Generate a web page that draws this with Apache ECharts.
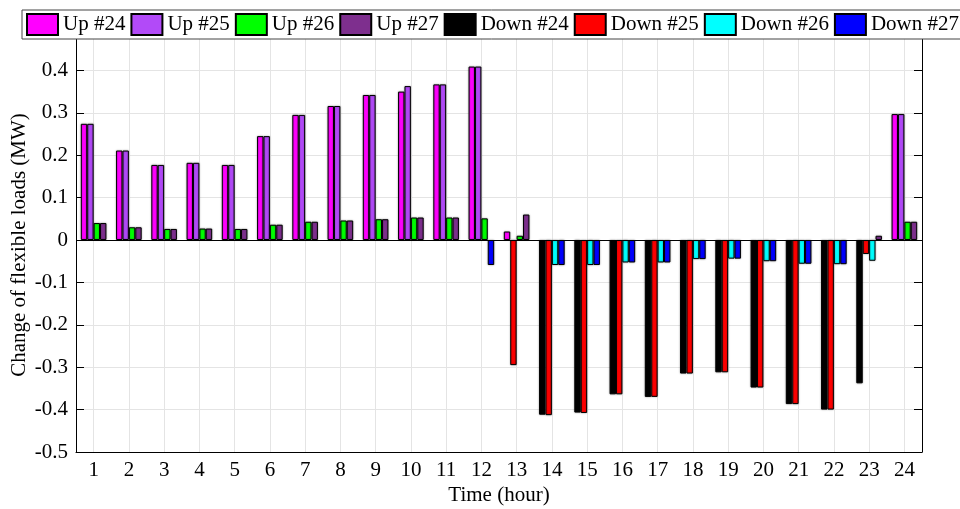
<!DOCTYPE html>
<html>
<head>
<meta charset="utf-8">
<script src="https://cdn.jsdelivr.net/npm/echarts@6/dist/echarts.min.js"></script>
<style>html,body{margin:0;padding:0;background:#fff;}#c{width:960px;height:509px;}</style>
</head>
<body>
<div id="c"></div>
<script>
var hours = ['1','2','3','4','5','6','7','8','9','10','11','12','13','14','15','16','17','18','19','20','21','22','23','24'];
var up24 = [0.274,0.211,0.177,0.182,0.177,0.245,0.295,0.316,0.342,0.350,0.367,0.409,0.020,0,0,0,0,0,0,0,0,0,0,0.297];
var up25 = [0.274,0.211,0.177,0.182,0.177,0.245,0.295,0.316,0.342,0.363,0.367,0.409,0,0,0,0,0,0,0,0,0,0,0,0.297];
var up26 = [0.040,0.030,0.026,0.027,0.026,0.036,0.043,0.046,0.049,0.053,0.053,0.051,0.010,0,0,0,0,0,0,0,0,0,0,0.043];
var up27 = [0.040,0.030,0.026,0.027,0.026,0.036,0.043,0.046,0.049,0.053,0.053,0,0.060,0,0,0,0,0,0,0,0,0,0.010,0.043];
var down24 = [0,0,0,0,0,0,0,0,0,0,0,0,0,-0.412,-0.407,-0.364,-0.370,-0.315,-0.312,-0.348,-0.387,-0.400,-0.338,0];
var down25 = [0,0,0,0,0,0,0,0,0,0,0,0,-0.295,-0.413,-0.408,-0.364,-0.370,-0.315,-0.312,-0.348,-0.387,-0.400,-0.033,0];
var down26 = [0,0,0,0,0,0,0,0,0,0,0,0,0,-0.059,-0.059,-0.053,-0.053,-0.045,-0.044,-0.050,-0.056,-0.057,-0.049,0];
var down27 = [0,0,0,0,0,0,0,0,0,0,0,-0.059,0,-0.059,-0.059,-0.053,-0.053,-0.045,-0.044,-0.050,-0.056,-0.057,0,0];
var seriesNames = ['Up #24','Up #25','Up #26','Up #27','Down #24','Down #25','Down #26','Down #27'];
var yTicks = {min: -0.5, max: 0.4764, step: 0.1};

var seriesData = [up24, up25, up26, up27, down24, down25, down26, down27];
var colors = ['#FF00FF','#B24AF8','#00FF00','#7E2F8E','#000000','#FF0000','#00FFFF','#0000FF'];
var stacks = ['s24','s25','s26','s27','s24','s25','s26','s27'];
var FONT = 'Liberation Serif';

// half-step positions (0.5 .. 24.5) used only to place vertical grid lines on the hour ticks
var halfSteps = [];
for (var k = 0; k <= hours.length * 2; k++) { halfSteps.push(String(0.5 + k * 0.5)); }

var series = seriesData.map(function (d, i) {
  return {
    name: seriesNames[i],
    type: 'bar',
    stack: stacks[i],
    xAxisIndex: 0,
    barWidth: 6.4,
    barGap: '0%',
    data: d.map(function (v) { return v === 0 ? '-' : v; }),
    itemStyle: { color: colors[i], borderColor: '#000', borderWidth: 1, shadowBlur: 2, shadowColor: 'rgba(0,0,0,0.35)' },
    emphasis: { disabled: true },
    animation: false
  };
});
series[0].markLine = {
  silent: true, symbol: 'none', animation: false,
  label: { show: false },
  lineStyle: { color: '#000', width: 1, type: 'solid' },
  data: [{ yAxis: 0 }]
};

var chart = echarts.init(document.getElementById('c'), null, { renderer: 'canvas' });
chart.setOption({
  backgroundColor: '#fff',
  animation: false,
  textStyle: { fontFamily: FONT, color: '#000' },
  legend: {
    top: 10, left: 22, width: 960,
    padding: [3, 4, 3, 4],
    itemWidth: 31, itemHeight: 21, itemGap: 5,
    backgroundColor: '#fff', borderColor: '#444', borderWidth: 1,
    icon: 'rect',
    textStyle: { fontFamily: FONT, fontSize: 21, color: '#000' },
    data: seriesNames,
    z: 10
  },
  grid: { left: 76, right: 38, top: 38, bottom: 57, containLabel: false, outerBoundsMode: 'none' },
  xAxis: [{
    type: 'category',
    data: hours,
    boundaryGap: true,
    name: 'Time (hour)', nameLocation: 'middle', nameGap: 33, nameMoveOverlap: false,
    nameTextStyle: { fontFamily: FONT, fontSize: 21, color: '#000' },
    axisLine: { onZero: false, lineStyle: { color: '#000', width: 1 } },
    axisTick: { inside: true, length: 8, alignWithLabel: true, lineStyle: { color: '#000' } },
    axisLabel: { fontFamily: FONT, fontSize: 21, color: '#000', margin: 8, interval: 0 },
    splitLine: { show: false }
  }, {
    type: 'category',
    data: halfSteps,
    boundaryGap: false,
    position: 'top',
    axisLine: { show: false },
    axisTick: { show: false },
    axisLabel: { show: false },
    splitLine: { show: true, interval: function (idx) { return idx % 2 === 1; }, lineStyle: { color: '#e4e4e4', width: 1 } }
  }],
  yAxis: [{
    type: 'value',
    min: yTicks.min, max: yTicks.max, interval: yTicks.step,
    name: 'Change of flexible loads (MW)', nameLocation: 'middle', nameGap: 46, nameMoveOverlap: false,
    nameTextStyle: { fontFamily: FONT, fontSize: 21, color: '#000' },
    axisLine: { show: true, onZero: false, lineStyle: { color: '#000', width: 1 } },
    axisTick: { show: true, inside: true, length: 8, lineStyle: { color: '#000' } },
    axisLabel: { fontFamily: FONT, fontSize: 21, color: '#000', margin: 8, showMaxLabel: false,
      formatter: function (v) { return Math.round(v * 10) / 10 + ''; } },
    splitLine: { show: true, lineStyle: { color: '#e4e4e4', width: 1 } }
  }, {
    type: 'value', position: 'right',
    min: yTicks.min, max: yTicks.max, interval: yTicks.step,
    axisLine: { show: true, onZero: false, lineStyle: { color: '#000', width: 1 } },
    axisTick: { show: true, inside: true, length: 8, lineStyle: { color: '#000' } },
    axisLabel: { show: false },
    splitLine: { show: false }
  }],
  series: series
});
</script>
</body>
</html>
